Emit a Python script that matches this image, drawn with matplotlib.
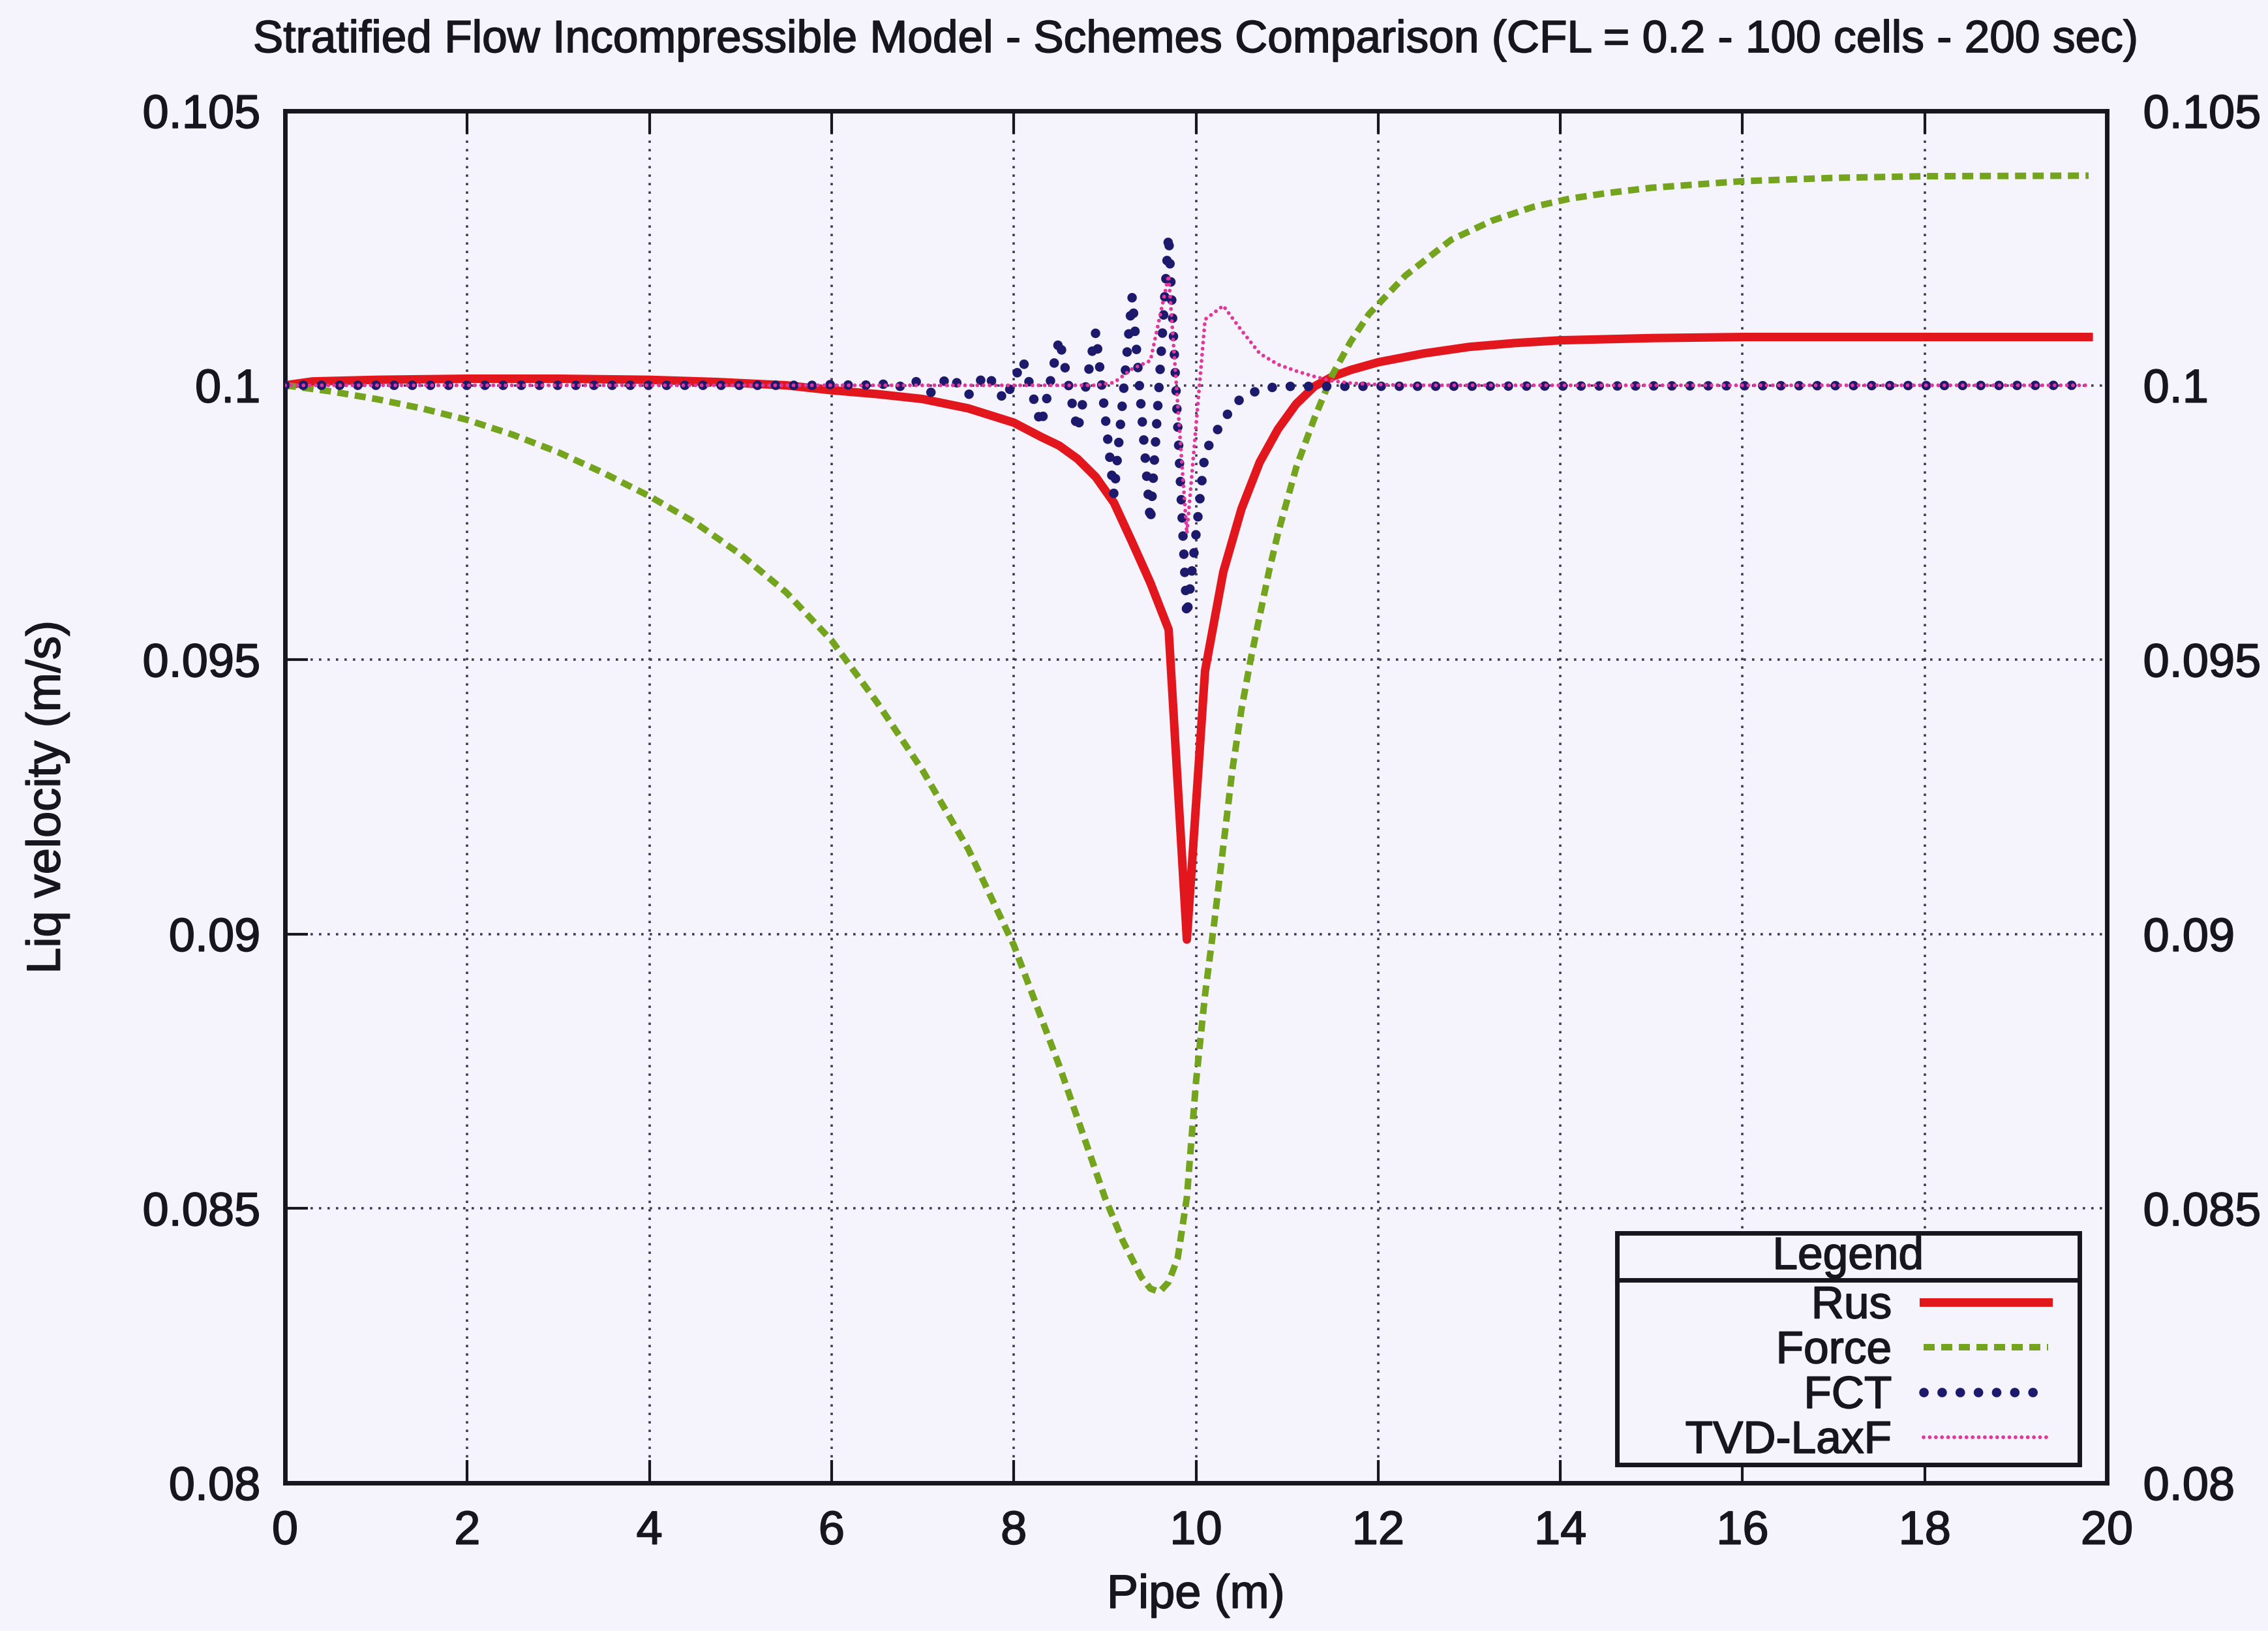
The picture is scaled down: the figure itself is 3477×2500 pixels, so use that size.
import matplotlib
matplotlib.use("Agg")
import matplotlib.pyplot as plt
import matplotlib.patheffects as pe
from matplotlib.patches import Rectangle
from matplotlib.lines import Line2D

plt.rcParams['font.family'] = ['Liberation Sans', 'DejaVu Sans']

# ---- data -------------------------------------------------------------
title = "Stratified Flow Incompressible Model - Schemes Comparison (CFL = 0.2 - 100 cells - 200 sec)"

x_ticks = [0, 2, 4, 6, 8, 10, 12, 14, 16, 18, 20]
x_tick_labels = ['0', '2', '4', '6', '8', '10', '12', '14', '16', '18', '20']
y_ticks = [0.08, 0.085, 0.09, 0.095, 0.1, 0.105]
y_tick_labels = ['0.08', '0.085', '0.09', '0.095', '0.1', '0.105']

rus_x = [0, 0.3, 1, 2, 3, 4, 4.75, 5.5, 6, 6.5, 7, 7.5, 8, 8.3, 8.5, 8.7, 8.9,
         9.1, 9.3, 9.5, 9.7, 9.9, 10.1, 10.3, 10.5, 10.7, 10.9, 11.1, 11.3,
         11.5, 11.7, 12, 12.5, 13, 13.5, 14, 15, 16, 18, 19.8]
rus_v = [0.1000, 0.10007, 0.10010, 0.10012, 0.10012, 0.10010, 0.10006, 0.10000,
         0.09991, 0.09984, 0.09975, 0.09958, 0.09932, 0.09906, 0.09890, 0.09866,
         0.09833, 0.09786, 0.09714, 0.09640, 0.09555, 0.08990, 0.09480, 0.09660,
         0.09775, 0.09860, 0.09920, 0.09966, 0.09998, 0.10016, 0.10028, 0.10042,
         0.10058, 0.10070, 0.10077, 0.10082, 0.10086, 0.10088, 0.10088, 0.10088]

force_x = [0, 0.5, 1, 1.5, 2, 2.5, 3, 3.5, 4, 4.5, 5, 5.5, 6, 6.5, 7, 7.5, 8,
           8.5, 9, 9.2, 9.4, 9.5, 9.6, 9.7, 9.8, 9.9, 10.0, 10.1, 10.2, 10.3,
           10.4, 10.5, 10.6, 10.7, 10.8, 10.9, 11.1, 11.3, 11.5, 11.7, 11.9,
           12.3, 12.8, 13.25, 13.7, 14.1, 14.5, 15, 16, 17, 18, 19.8]
force_v = [0.1000, 0.09989, 0.09975, 0.09958, 0.09937, 0.09910, 0.09878, 0.09840,
           0.09798, 0.09750, 0.09692, 0.09623, 0.09535, 0.09422, 0.09298, 0.09155,
           0.08980, 0.08760, 0.08520, 0.08440, 0.08375, 0.08354, 0.08348, 0.08366,
           0.08410, 0.08520, 0.08730, 0.08890, 0.09020, 0.09160, 0.09300, 0.09410,
           0.09500, 0.09580, 0.09660, 0.09730, 0.09850, 0.09940, 0.10020, 0.10080,
           0.10130, 0.10200, 0.10265, 0.10300, 0.10325, 0.10340, 0.10350, 0.10360,
           0.10372, 0.10378, 0.10381, 0.10382]

fct_x = [0, 5.9, 6.1, 6.3, 6.5, 6.7, 6.9, 7.1, 7.3, 7.5, 7.7, 7.9, 8.1, 8.3,
         8.5, 8.7, 8.9, 9.1, 9.3, 9.5, 9.7, 9.9, 10.1, 10.3, 10.5, 10.7, 10.9, 19.8]
fct_v = [0.1000, 0.1000, 0.10003, 0.09997, 0.10006, 0.09994, 0.10010, 0.09986,
         0.10018, 0.09982, 0.10022, 0.09972, 0.10046, 0.09927, 0.10085, 0.09917,
         0.10097, 0.09800, 0.10162, 0.09750, 0.10274, 0.09578, 0.09878, 0.09938,
         0.09978, 0.09992, 0.09998, 0.1000]

tvd_x = [0, 8.9, 9.1, 9.3, 9.5, 9.7, 9.9, 10.1, 10.3, 10.5, 10.7, 10.9, 11.1,
         11.3, 11.5, 11.7, 11.9, 12.3, 19.8]
tvd_v = [0.1000, 0.1000, 0.10005, 0.10030, 0.10045, 0.10200, 0.09730, 0.10120,
         0.10145, 0.10100, 0.10058, 0.10038, 0.10026, 0.10016, 0.10008, 0.10004,
         0.10002, 0.1000, 0.1000]

# ---- figure -----------------------------------------------------------
BG = '#f5f3fb'
INK = '#17151e'
bold_ink = [pe.withStroke(linewidth=1.2, foreground=INK)]

fig = plt.figure(figsize=(34.77, 25), dpi=100, facecolor=BG)
ax = fig.add_axes([437 / 3477, 227 / 2500, 2793 / 3477, 2103 / 2500], facecolor=BG)

ax.plot(rus_x, rus_v, color='#e2171d', lw=9.4, label='Rus', zorder=3)
ax.plot(force_x, force_v, color='#74a41e', lw=7.2, linestyle=(0, (1.7, 1.0)),
        dash_capstyle='butt', label='Force', zorder=3)
ax.plot(fct_x, fct_v, color='#1d1a6e', lw=10.5, linestyle=(0, (0.01, 1.9)),
        dash_capstyle='round', label='FCT', zorder=3)
ax.plot(tvd_x, tvd_v, color='#e0399d', lw=4.2, linestyle=(0, (0.01, 1.6)),
        dash_capstyle='round', label='TVD-LaxF', zorder=3)

ax.set_xlim(0, 20)
ax.set_ylim(0.08, 0.105)
ax.set_xticks(x_ticks, labels=x_tick_labels)
ax.set_yticks(y_ticks, labels=y_tick_labels)

ax.grid(True, color='#3c3a55', lw=2.6, linestyle=(0, (1, 2.6)), zorder=1)
ax.set_axisbelow(True)

ax.tick_params(direction='in', length=25, width=3, top=True, right=True,
               labelsize=52, colors=INK)
ax.tick_params(axis='x', pad=30)
ax.tick_params(axis='y', pad=27)
for s in ax.spines.values():
    s.set_linewidth(5)
    s.set_color(INK)

# mirrored value labels on the right-hand side
ax2 = ax.twinx()
ax2.set_ylim(0.08, 0.105)
ax2.set_yticks(y_ticks, labels=y_tick_labels)
ax2.tick_params(axis='y', length=0, pad=40, labelsize=52, colors=INK)
for s in ax2.spines.values():
    s.set_visible(False)

ax.set_xlabel('Pipe (m)', fontsize=52, color=INK, va='center')
ax.xaxis.set_label_coords(0.5, -0.0823)
ax.set_ylabel('Liq velocity (m/s)', fontsize=52, color=INK, va='center')
ax.yaxis.set_label_coords(-0.1303, 0.5)

fig.text(0.5276, 1 - 62 / 2500, title, fontsize=50, color=INK,
         ha='center', va='center', path_effects=bold_ink)

# legend box with a separate title row
box_x0, box_x1, box_y0, box_y1 = 0.731, 0.985, 0.0133, 0.182
ax.add_patch(Rectangle((box_x0, box_y0), box_x1 - box_x0, box_y1 - box_y0,
                       transform=ax.transAxes, facecolor=BG, edgecolor=INK,
                       lw=5, zorder=4))
ax.add_line(Line2D([box_x0, box_x1], [0.1479, 0.1479], transform=ax.transAxes,
                   color=INK, lw=5, zorder=4.5))
ax.text((box_x0 + box_x1) / 2, 0.1645, 'Legend', transform=ax.transAxes,
        ha='center', va='center', fontsize=50, color=INK, zorder=5,
        path_effects=bold_ink)
leg = ax.legend(loc='lower right', bbox_to_anchor=(0.9678, 0.0152),
                borderaxespad=0, borderpad=0, markerfirst=False,
                fontsize=50, frameon=False, handlelength=2.75,
                handletextpad=0.7, labelspacing=0.07)
leg.set_zorder(5)
for t in leg.get_texts():
    t.set_color(INK)
    t.set_path_effects(bold_ink)

for lab in ax.get_xticklabels() + ax.get_yticklabels() + ax2.get_yticklabels():
    lab.set_path_effects(bold_ink)
ax.xaxis.label.set_path_effects(bold_ink)
ax.yaxis.label.set_path_effects(bold_ink)

fig.savefig('out.png', dpi=100, facecolor=BG)
